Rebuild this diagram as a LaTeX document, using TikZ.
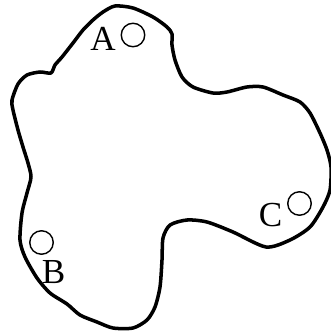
\documentclass[tikz,border=0pt]{standalone}
\usepackage{fontspec}
\setmainfont{Liberation Serif}
\usetikzlibrary{positioning}

\begin{document}
\begin{tikzpicture}[
  x=0.02cm, y=-0.02cm,
  outline/.style={line width=2pt, line join=round},
  hole/.style={draw, circle, line width=0.8pt, minimum size=0.47cm, inner sep=0pt},
  tag/.style={font=\fontsize{20}{20}\selectfont, inner sep=0pt}
]
\useasboundingbox (0,0) rectangle (331,331);

% the region's boundary
\draw[outline] plot[smooth cycle, tension=0.45] coordinates {
  (115,6) (133,8) (153,17) (167,27) (172,34) (172,45) (175,60) (182,77)
  (193,87) (213,93) (227,92) (247,87) (263,87) (283,95) (300,102) (310,113)
  (320,133) (327,150) (331,167) (330,190) (323,207) (310,227) (290,240)
  (266,247) (233,232) (207,222) (187,220) (170,225) (163,238) (162,260)
  (160,287) (155,307) (147,320) (133,328) (113,328) (97,322) (80,315)
  (67,304) (50,293) (37,278) (25,257) (20,240) (22,213) (27,193) (31,177)
  (28,163) (23,147) (18,130) (13,110) (12,100) (18,84) (27,75) (40,72)
  (51,73) (55,65) (62,57) (73,43) (83,30) (93,20) (103,12)};

% points
\node[hole] (ha) at (133,35) {};
\node[hole] (hb) at (41.5,242.5) {};
\node[hole] (hc) at (299.5,203.5) {};

\node[tag] (la) at (103,39) {A};
\node[tag] (lb) at (53.5,272.5) {B};
\node[tag] (lc) at (270.5,215) {C};
\end{tikzpicture}
\end{document}
